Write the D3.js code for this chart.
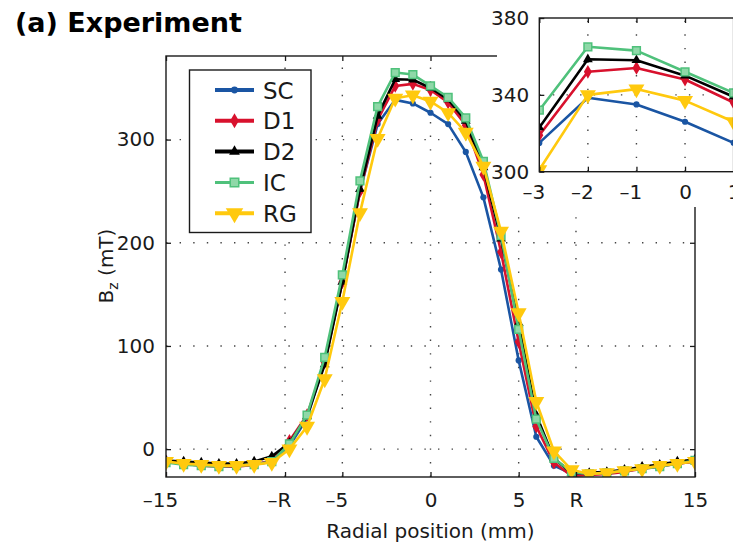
<!DOCTYPE html>
<html>
<head>
<meta charset="utf-8">
<script src="https://cdn.jsdelivr.net/npm/d3@7"></script>
<style>
  body { margin: 0; background: #fff; }
  text { font-family: 'DejaVu Sans', Verdana, sans-serif; }
</style>
</head>
<body>
<script>
// Data (Bz in mT vs radial position in mm)
const positions = [-15, -14, -13, -12, -11, -10, -9, -8, -7, -6, -5, -4, -3, -2, -1, 0, 1, 2, 3, 4, 5, 6, 7, 8, 9, 10, 11, 12, 13, 14, 15];
const SC = [-12, -14, -15, -16, -16, -15, -12, 3, 30, 85, 163, 250, 315, 338.5, 335, 326, 315, 288, 244, 174, 86, 12, -16, -24, -24, -23, -21, -19, -16, -14, -12];
const D1 = [-12, -14, -16, -17, -17, -15, -11, 8, 33, 84, 162, 250, 319, 352, 354, 348, 336, 314, 266, 191, 104, 22, -13, -26, -25, -24, -22, -19, -17, -14, -12];
const D2 = [-11, -12, -13, -14, -14, -12, -7, 6, 32, 82, 162, 252, 323, 358.5, 358, 350, 339, 318, 273, 204, 122, 33, -9, -23, -23, -22, -20, -17, -15, -12, -10];
const IC = [-13, -15, -16, -17, -16, -15, -12, 5, 33, 89, 169, 260, 332, 365, 363, 352, 341, 321, 279, 207, 116, 29, -9, -22, -24, -23, -21, -19, -17, -14, -11];
const RG = [-12, -14, -15, -16, -16, -15, -13, 0, 22, 68, 143, 229, 301, 340, 343, 337, 326, 307, 274, 211, 132, 46, -2, -20, -24, -23, -21, -19, -16, -14, -12];

const seriesNames = ['SC', 'D1', 'D2', 'IC', 'RG'];
const seriesValues = [SC, D1, D2, IC, RG];

const R = 8.25;
const xTickValues = [-15, -R, -5, 0, 5, R, 15];
const xTickLabels = ['–15', '–R', '–5', '0', '5', 'R', '15'];
const yTickValues = [0, 100, 200, 300];
const insetXTicks = [-3, -2, -1, 0, 1];
const insetXLabels = ['–3', '–2', '–1', '0', '1'];
const insetYTicks = [300, 340, 380];

// styles per series
const colors = ['#1a55a3', '#d8112d', '#000000', '#4fc17b', '#ffc90e'];
const fills = ['#1a55a3', '#d8112d', '#000000', '#8fd8a8', '#ffc90e'];
const symbols = [d3.symbolCircle, d3.symbolDiamond, d3.symbolTriangle, d3.symbolSquare, d3.symbolTriangle];
const symSizes = [30, 55, 42, 60, 110];
const rotations = [0, 0, 0, 0, 180];

const W = 733, H = 547;

let svg = d3.select('body').append('svg')
  .attr('width', W)
  .attr('height', H);

let defs = svg.append('defs');

// Main scales
let x = d3.scaleLinear().domain([-15, 15]).range([166, 695]);
let y = d3.scaleLinear().domain([-27, 381]).range([477, 56]);

defs.append('clipPath').attr('id', 'mainClip')
  .append('rect')
  .attr('x', 166).attr('y', 56).attr('width', 529).attr('height', 421);

// Title
svg.append('text')
  .attr('x', 15)
  .attr('y', 32)
  .attr('font-size', 27)
  .attr('font-weight', 'bold')
  .text('(a) Experiment');

// Grid
function drawGrid(g, xs, ys, xScale, yScale) {
  g.selectAll('.vg').data(xs).enter().append('line')
    .attr('x1', d => xScale(d)).attr('x2', d => xScale(d))
    .attr('y1', yScale.range()[0]).attr('y2', yScale.range()[1]);
  g.selectAll('.hg').data(ys).enter().append('line')
    .attr('y1', d => yScale(d)).attr('y2', d => yScale(d))
    .attr('x1', xScale.range()[0]).attr('x2', xScale.range()[1]);
  g.selectAll('line')
    .attr('stroke', '#444')
    .attr('stroke-width', 1.4)
    .attr('stroke-dasharray', '1.4,12.2');
}

let mainGrid = svg.append('g');
drawGrid(mainGrid, xTickValues.slice(1, -1), yTickValues, x, y);

// Series
function drawSeries(g, xScale, yScale, clipId) {
  let line = d3.line()
    .x((d, i) => xScale(positions[i]))
    .y(d => yScale(d));
  let sg = g.append('g').attr('clip-path', `url(#${clipId})`);
  seriesValues.forEach((vals, k) => {
    sg.append('path')
      .datum(vals)
      .attr('d', line)
      .attr('fill', 'none')
      .attr('stroke', colors[k])
      .attr('stroke-width', 2.6)
      .attr('stroke-linejoin', 'round');
    sg.selectAll('.m' + k)
      .data(vals)
      .enter()
      .append('path')
      .attr('transform', (d, i) => `translate(${xScale(positions[i])},${yScale(d)}) rotate(${rotations[k]})`)
      .attr('d', d3.symbol().type(symbols[k]).size(symSizes[k]))
      .attr('fill', fills[k])
      .attr('stroke', k === 3 ? colors[k] : 'none')
      .attr('stroke-width', 1.5);
  });
}

drawSeries(svg.append('g'), x, y, 'mainClip');

// Axes, inward ticks
function styleAxis(g, size) {
  g.attr('font-family', "'DejaVu Sans', Verdana, sans-serif")
    .attr('font-size', size)
    .attr('color', '#1a1a1a');
  g.select('.domain').remove();
  g.selectAll('.tick line').attr('stroke-width', 1.3);
}

let xAxisG = svg.append('g')
  .attr('transform', 'translate(0,477)')
  .call(d3.axisBottom(x).tickValues(xTickValues).tickFormat((d, i) => xTickLabels[i]).tickSize(-5).tickPadding(16));
styleAxis(xAxisG, 20);
xAxisG.selectAll('text').attr('dx', d => d < 0 ? -6 : 0);

let xTopG = svg.append('g')
  .attr('transform', 'translate(0,56)')
  .call(d3.axisTop(x).tickValues(xTickValues).tickFormat('').tickSize(-5));
styleAxis(xTopG, 20);

let yAxisG = svg.append('g')
  .attr('transform', 'translate(166,0)')
  .call(d3.axisLeft(y).tickValues(yTickValues).tickSize(-5).tickPadding(11));
styleAxis(yAxisG, 20);

let yRightG = svg.append('g')
  .attr('transform', 'translate(695,0)')
  .call(d3.axisRight(y).tickValues(yTickValues).tickFormat('').tickSize(-5));
styleAxis(yRightG, 20);

svg.append('rect')
  .attr('x', 166).attr('y', 56).attr('width', 529).attr('height', 421)
  .attr('fill', 'none')
  .attr('stroke', '#1a1a1a')
  .attr('stroke-width', 1.4);

// Axis labels
svg.append('text')
  .attr('x', 430.5)
  .attr('y', 538)
  .attr('text-anchor', 'middle')
  .attr('font-size', 20)
  .attr('fill', '#1a1a1a')
  .text('Radial position (mm)');

let yLab = svg.append('text')
  .attr('transform', 'translate(113,266) rotate(-90)')
  .attr('text-anchor', 'middle')
  .attr('font-size', 20)
  .attr('fill', '#1a1a1a');
yLab.append('tspan').text('B');
yLab.append('tspan').attr('font-size', 14).attr('dy', 5).text('z');
yLab.append('tspan').attr('dy', -5).text(' (mT)');

// Legend
let legend = svg.append('g');
legend.append('rect')
  .attr('x', 189.5).attr('y', 70).attr('width', 121.5).attr('height', 162.5)
  .attr('fill', '#fff')
  .attr('stroke', '#1a1a1a')
  .attr('stroke-width', 1.4);

let entries = legend.selectAll('.entry')
  .data(seriesNames)
  .enter()
  .append('g')
  .attr('transform', (d, i) => `translate(0,${90 + i * 30.8})`);
entries.append('line')
  .attr('x1', 215).attr('x2', 254)
  .attr('stroke', (d, i) => colors[i])
  .attr('stroke-width', (d, i) => i === 3 ? 3 : 4);
entries.append('path')
  .attr('transform', (d, i) => `translate(234.5,0) rotate(${rotations[i]})`)
  .attr('d', (d, i) => d3.symbol().type(symbols[i]).size(symSizes[i] * 1.2)())
  .attr('fill', (d, i) => fills[i])
  .attr('stroke', (d, i) => i === 3 ? colors[i] : 'none')
  .attr('stroke-width', 1.5);
entries.append('text')
  .attr('x', 263)
  .attr('y', 8.5)
  .attr('font-size', 23)
  .attr('fill', '#1a1a1a')
  .text(d => d);

// Inset
let ix = d3.scaleLinear().domain([-3, 1]).range([539.3, 733.6]);
let iy = d3.scaleLinear().domain([300, 380]).range([171.7, 18]);

defs.append('clipPath').attr('id', 'insetClip')
  .append('rect')
  .attr('x', 539.3).attr('y', 18).attr('width', 194.3).attr('height', 153.7);

let inset = svg.append('g');
inset.append('rect')
  .attr('x', 497).attr('y', 0).attr('width', 236).attr('height', 207)
  .attr('fill', '#fff');

let insetGrid = inset.append('g');
drawGrid(insetGrid, insetXTicks.slice(1, -1), [340], ix, iy);

drawSeries(inset.append('g'), ix, iy, 'insetClip');

let ixG = inset.append('g')
  .attr('transform', 'translate(0,171.7)')
  .call(d3.axisBottom(ix).tickValues(insetXTicks).tickFormat((d, i) => insetXLabels[i]).tickSize(-5).tickPadding(13.5));
styleAxis(ixG, 20);
ixG.selectAll('text').attr('dx', d => d < 0 ? -6 : 0);

let ixTop = inset.append('g')
  .attr('transform', 'translate(0,18)')
  .call(d3.axisTop(ix).tickValues(insetXTicks).tickFormat('').tickSize(-5));
styleAxis(ixTop, 20);

let iyG = inset.append('g')
  .attr('transform', 'translate(539.3,0)')
  .call(d3.axisLeft(iy).tickValues(insetYTicks).tickSize(-5).tickPadding(10));
styleAxis(iyG, 20);

inset.append('rect')
  .attr('x', 539.3).attr('y', 18).attr('width', 194.3).attr('height', 153.7)
  .attr('fill', 'none')
  .attr('stroke', '#1a1a1a')
  .attr('stroke-width', 1.4);
</script>
</body>
</html>
